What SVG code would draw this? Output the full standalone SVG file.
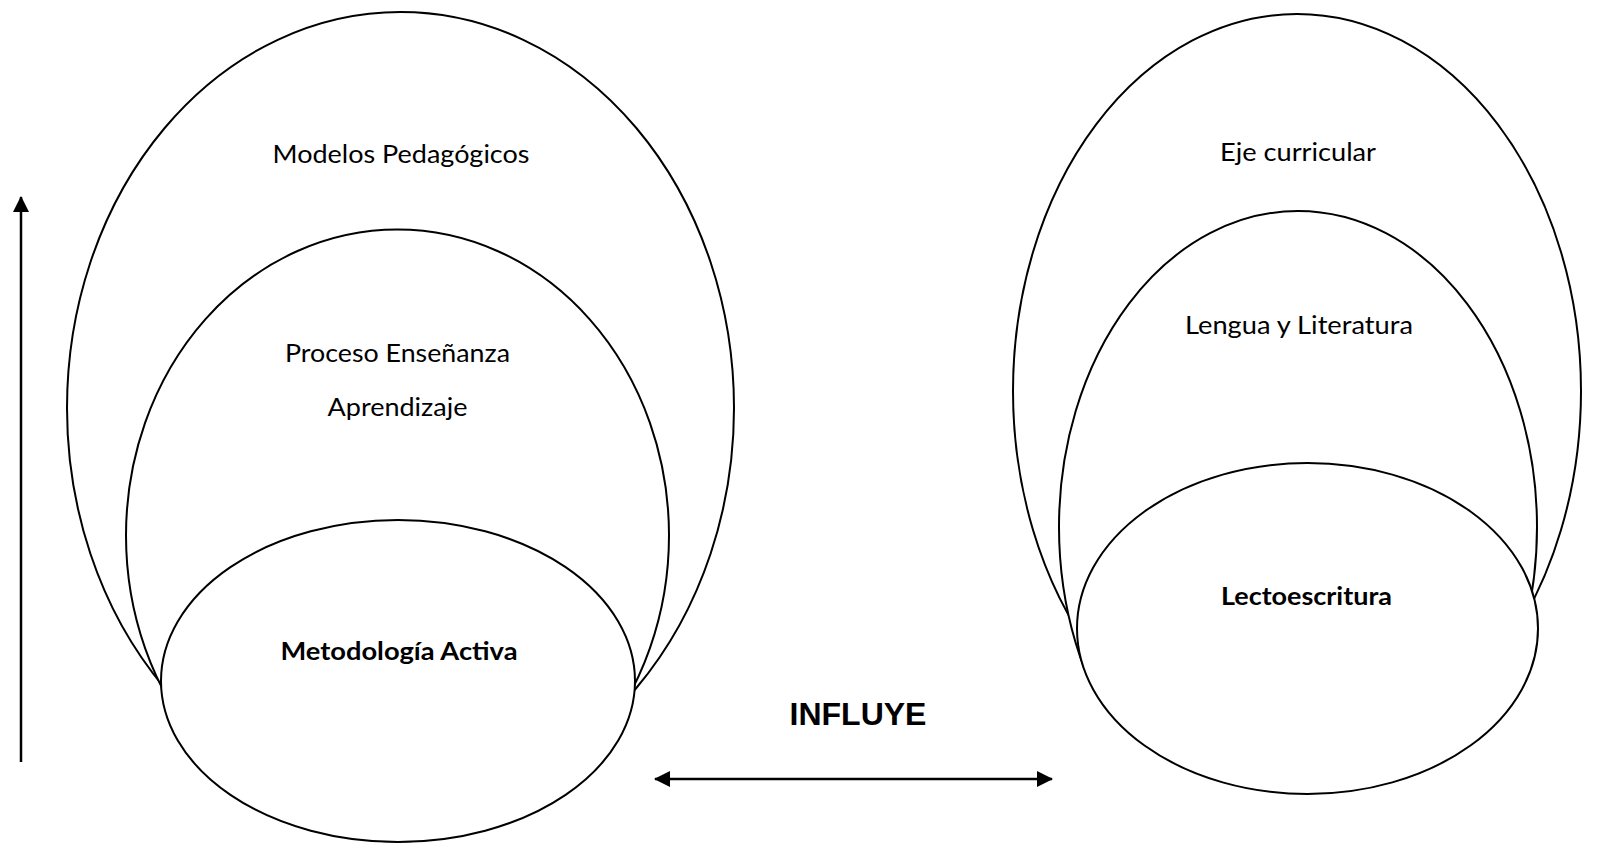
<svg xmlns="http://www.w3.org/2000/svg" width="1621" height="845" viewBox="0 0 1621 845">
<style>
.el{fill:#fff;stroke:#000;stroke-width:2}
.t{font-family:Lato,"Open Sans","Liberation Sans",sans-serif;font-size:25px;fill:#000;text-anchor:middle}
.b{font-weight:bold}
.big{font-family:"Liberation Sans",Arial,sans-serif;font-size:32px;font-weight:bold;text-anchor:middle;fill:#000}
.ln{stroke:#000;stroke-width:2.5;fill:none}
</style>
<defs>
<marker id="ah" viewBox="0 0 16 16" refX="15" refY="8" markerWidth="16" markerHeight="16" markerUnits="userSpaceOnUse" orient="auto-start-reverse">
<path d="M0,0 L16,8 L0,16 Z" fill="#000"/>
</marker>
<clipPath id="rclip"><rect x="900" y="0" width="721" height="670"/></clipPath>
</defs>
<rect width="1621" height="845" fill="#fff"/>
<g id="modelos">
<ellipse class="el" cx="400.5" cy="408" rx="333.5" ry="396"/>
<text class="t" x="401" y="163" textLength="257" lengthAdjust="spacingAndGlyphs">Modelos Pedagógicos</text>
</g>
<g id="proceso">
<ellipse class="el" cx="397.5" cy="535.5" rx="271.5" ry="306"/>
<text class="t" x="397.5" y="362" textLength="225" lengthAdjust="spacingAndGlyphs">Proceso Enseñanza</text>
<text class="t" x="397.5" y="416" textLength="140" lengthAdjust="spacingAndGlyphs">Aprendizaje</text>
</g>
<g id="metodologia">
<ellipse class="el" cx="398" cy="681" rx="237" ry="161"/>
<text class="t b" x="399" y="660" textLength="237" lengthAdjust="spacingAndGlyphs">Metodología Activa</text>
</g>
<g id="eje">
<ellipse class="el" cx="1297" cy="391" rx="284" ry="377" clip-path="url(#rclip)"/>
<text class="t" x="1298" y="161" textLength="156" lengthAdjust="spacingAndGlyphs">Eje curricular</text>
</g>
<g id="lengua">
<ellipse class="el" cx="1298" cy="527" rx="239" ry="316" clip-path="url(#rclip)"/>
<text class="t" x="1299" y="334" textLength="228" lengthAdjust="spacingAndGlyphs">Lengua y Literatura</text>
</g>
<g id="lectoescritura">
<ellipse class="el" cx="1307.5" cy="628.5" rx="230.5" ry="165.5"/>
<text class="t b" x="1306.5" y="605" textLength="171" lengthAdjust="spacingAndGlyphs">Lectoescritura</text>
</g>
<g id="connectors">
<line class="ln" x1="21" y1="762" x2="21" y2="197" marker-end="url(#ah)"/>
<line class="ln" x1="655" y1="779" x2="1052" y2="779" marker-start="url(#ah)" marker-end="url(#ah)"/>
<text class="big" x="858" y="725">INFLUYE</text>
</g>
</svg>
